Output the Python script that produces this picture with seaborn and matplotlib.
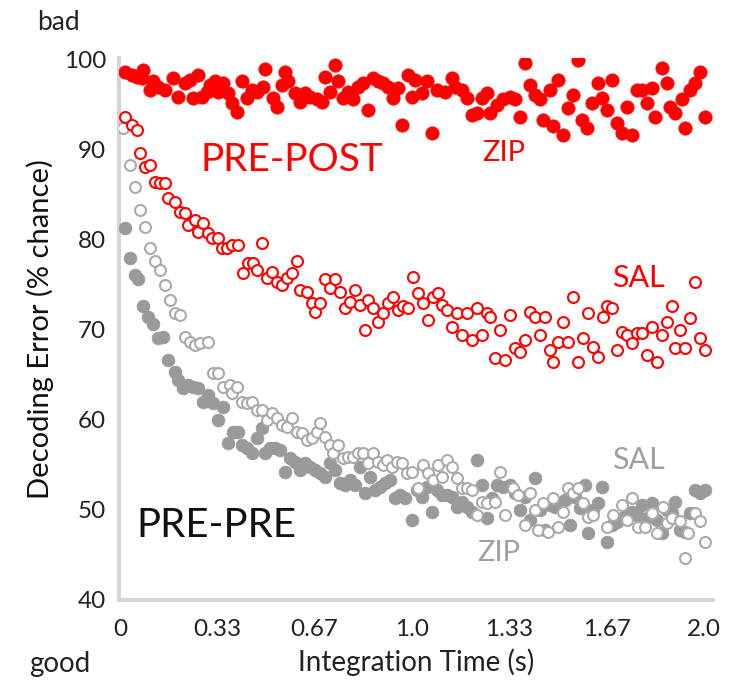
import matplotlib
matplotlib.use("Agg")
import matplotlib.pyplot as plt
import seaborn as sns
import pandas as pd

# ---- data ----
zip_post_x = [0.017,0.041,0.058,0.075,0.079,0.103,0.113,0.130,0.154,0.182,0.199,0.223,0.240,0.250,0.267,0.281,0.298,0.308,0.325,0.336,
              0.353,0.370,0.384,0.401,0.418,0.435,0.452,0.469,0.490,0.497,0.524,0.538,0.555,0.565,0.575,0.599,0.616,0.634,0.651,0.675,
              0.692,0.702,0.719,0.736,0.747,0.764,0.781,0.798,0.815,0.832,0.849,0.866,0.884,0.901,0.918,0.935,0.952,0.966,0.986,1.000,
              1.010,1.034,1.051,1.068,1.086,1.113,1.137,1.147,1.171,1.188,1.205,1.223,1.240,1.257,1.267,1.291,1.312,1.336,1.353,1.370,
              1.387,1.404,1.421,1.438,1.449,1.473,1.483,1.500,1.517,1.534,1.551,1.568,1.582,1.599,1.616,1.637,1.651,1.668,1.685,1.702,
              1.719,1.736,1.753,1.771,1.788,1.805,1.822,1.832,1.856,1.873,1.884,1.901,1.925,1.935,1.952,1.969,1.986,2.003]
zip_post_y = [98.6,98.3,98.1,98.0,98.9,96.7,97.6,97.0,96.7,98.0,95.9,97.4,97.8,95.8,98.3,95.9,96.4,97.2,97.6,96.4,
              97.4,96.3,95.2,94.2,97.6,95.8,96.7,96.4,97.0,99.0,95.8,94.8,97.2,98.7,97.6,96.3,95.3,96.3,95.9,95.6,
              95.3,98.1,96.4,99.4,97.6,95.8,96.4,95.6,97.0,97.4,94.4,98.0,97.6,97.4,97.0,95.8,96.9,92.8,98.3,95.9,
              97.8,96.3,97.6,91.9,96.7,96.4,98.0,97.0,96.7,95.8,93.9,94.1,95.8,96.3,94.1,95.0,95.6,95.9,95.6,93.6,
              99.7,97.2,96.1,95.6,93.3,96.7,92.6,97.8,91.7,94.7,96.1,100.0,93.3,92.4,95.2,97.4,95.8,94.4,97.8,93.0,
              91.9,94.8,91.7,96.7,96.7,95.2,96.9,93.6,99.1,97.4,94.8,94.1,95.6,92.4,96.7,97.4,98.6,93.7]

sal_post_x = [0.017,0.041,0.058,0.068,0.086,0.103,0.120,0.137,0.154,0.164,0.188,0.205,0.223,0.233,0.257,0.267,0.284,0.301,0.315,0.336,
              0.349,0.366,0.384,0.404,0.421,0.438,0.455,0.469,0.486,0.503,0.521,0.538,0.555,0.572,0.589,0.606,0.616,0.640,0.658,0.668,
              0.685,0.702,0.719,0.736,0.753,0.771,0.788,0.805,0.822,0.839,0.849,0.866,0.884,0.901,0.918,0.935,0.952,0.969,0.986,1.003,
              1.021,1.038,1.055,1.072,1.089,1.103,1.120,1.137,1.154,1.171,1.188,1.205,1.223,1.240,1.257,1.267,1.284,1.301,1.318,1.336,
              1.353,1.370,1.387,1.404,1.421,1.438,1.455,1.473,1.483,1.500,1.517,1.534,1.551,1.568,1.586,1.603,1.620,1.637,1.654,1.668,
              1.685,1.702,1.719,1.736,1.753,1.771,1.788,1.805,1.822,1.839,1.856,1.873,1.890,1.901,1.918,1.935,1.952,1.969,1.986,2.003]
sal_post_y = [93.6,92.8,92.2,89.7,88.1,88.3,86.4,86.3,86.3,84.7,84.2,83.1,83.0,81.7,82.2,80.9,81.9,80.8,80.2,80.2,
              79.1,79.1,79.4,79.4,76.3,77.4,77.4,76.7,79.7,75.8,76.4,75.3,75.0,75.8,76.3,77.6,74.4,74.2,73.0,72.0,
              73.0,75.6,74.7,75.6,74.2,72.4,73.1,74.4,72.8,70.0,73.3,72.4,70.9,71.9,73.0,73.7,72.2,72.6,72.4,75.9,
              74.1,73.0,71.1,73.6,74.1,72.8,72.2,70.3,71.9,69.4,71.9,68.9,72.4,69.4,71.9,71.4,66.9,70.0,66.7,71.7,
              68.0,67.6,68.9,72.0,71.4,69.4,71.4,67.8,66.4,68.7,70.9,68.7,73.6,66.4,69.1,71.9,68.1,67.0,71.4,72.6,
              72.4,67.8,69.8,69.4,68.6,69.7,69.7,67.2,70.3,66.4,69.4,70.9,72.6,68.0,70.0,68.0,71.3,75.3,69.1,67.8]

sal_pre_x = [0.010,0.034,0.051,0.068,0.086,0.103,0.120,0.137,0.154,0.171,0.188,0.205,0.223,0.240,0.257,0.274,0.301,0.318,0.336,0.353,
             0.377,0.384,0.401,0.418,0.435,0.452,0.469,0.486,0.503,0.521,0.538,0.555,0.572,0.589,0.606,0.623,0.640,0.658,0.675,0.685,
             0.702,0.719,0.729,0.747,0.764,0.781,0.798,0.815,0.832,0.849,0.866,0.884,0.901,0.914,0.932,0.949,0.966,0.983,1.000,1.021,
             1.038,1.055,1.072,1.089,1.103,1.120,1.137,1.154,1.171,1.188,1.205,1.223,1.240,1.257,1.284,1.301,1.318,1.346,1.363,1.387,
             1.404,1.421,1.432,1.449,1.466,1.483,1.500,1.517,1.534,1.551,1.568,1.586,1.603,1.620,1.668,1.688,1.719,1.736,1.753,1.774,
             1.798,1.822,1.839,1.860,1.873,1.890,1.918,1.935,1.945,1.969,1.986,2.003]
sal_pre_y = [92.4,88.3,85.9,83.3,81.4,79.1,77.6,76.7,75.0,73.3,71.9,71.7,69.2,68.7,68.3,68.6,68.7,65.2,65.2,63.7,
             63.9,63.0,63.7,62.0,61.9,62.0,61.1,61.1,60.0,60.8,60.2,59.4,59.2,60.2,58.7,58.6,57.8,58.0,58.7,59.7,
             58.1,57.2,56.3,57.2,55.8,55.9,55.9,56.3,56.3,55.2,56.3,55.3,55.0,55.6,54.8,55.3,55.2,54.1,54.2,52.4,
             55.0,54.1,53.3,55.0,53.7,55.6,54.8,53.6,52.4,52.4,52.2,49.4,50.9,50.8,50.9,54.2,49.4,52.4,51.7,48.3,
             51.9,50.0,47.8,50.8,47.6,51.3,48.1,49.8,52.4,51.9,52.4,50.8,49.2,49.4,48.1,49.4,50.6,48.9,51.3,48.1,
             48.1,49.7,47.4,50.3,48.6,49.1,48.8,44.7,47.4,49.7,48.8,46.4]

zip_pre_x = [0.017,0.034,0.051,0.062,0.079,0.096,0.113,0.130,0.147,0.164,0.188,0.199,0.216,0.233,0.250,0.267,0.284,0.301,0.318,0.336,
             0.353,0.370,0.387,0.404,0.418,0.435,0.452,0.469,0.486,0.497,0.514,0.531,0.548,0.565,0.582,0.599,0.616,0.634,0.651,0.668,
             0.685,0.702,0.719,0.736,0.753,0.771,0.788,0.805,0.822,0.839,0.856,0.873,0.890,0.908,0.925,0.942,0.959,0.976,1.000,1.017,
             1.034,1.051,1.068,1.086,1.103,1.120,1.137,1.154,1.171,1.188,1.205,1.223,1.240,1.257,1.274,1.291,1.312,1.336,1.353,1.370,
             1.387,1.404,1.421,1.438,1.455,1.473,1.490,1.507,1.524,1.541,1.558,1.575,1.592,1.603,1.620,1.637,1.651,1.668,1.685,1.702,
             1.719,1.736,1.753,1.771,1.788,1.805,1.822,1.839,1.856,1.873,1.890,1.901,1.918,1.935,1.952,1.969,1.986,2.003]
zip_pre_y = [81.3,78.0,76.1,75.6,72.6,71.4,70.6,69.1,69.2,66.7,65.3,64.4,63.6,63.9,63.7,63.6,62.0,62.8,61.9,60.0,
             61.4,57.4,58.7,58.7,57.2,56.9,56.3,58.0,59.1,56.3,56.9,56.9,56.7,54.2,55.8,55.3,54.4,55.2,54.8,54.4,
             54.1,53.7,55.2,54.4,53.0,52.8,53.3,52.8,54.8,51.9,53.7,52.2,52.6,53.0,53.3,51.3,51.7,51.3,48.9,52.2,
             51.4,52.6,49.8,52.2,51.7,51.7,51.4,50.3,50.9,50.3,49.8,55.6,52.8,49.1,51.3,52.8,52.6,52.8,51.9,50.0,
             51.4,48.9,53.6,50.0,47.8,50.6,50.3,50.8,51.1,48.3,51.4,50.2,52.8,47.4,50.0,50.8,52.6,46.4,48.3,48.7,
             49.1,49.7,49.8,49.4,50.6,49.1,50.8,48.9,47.4,50.0,49.7,50.9,47.8,47.6,49.7,52.2,51.9,52.2]

xtick_vals = [0, 1/3, 2/3, 1.0, 4/3, 5/3, 2.0]
xtick_labels = ["0", "0.33", "0.67", "1.0", "1.33", "1.67", "2.0"]
ytick_vals = [40, 50, 60, 70, 80, 90, 100]

sns.set_style("white")
plt.rcParams["font.family"] = ["Lato", "DejaVu Sans"]

W, H = 739, 681
fig = plt.figure(figsize=(W / 100, H / 100), dpi=100)
ax = fig.add_axes([118.5 / W, (H - 600) / H, 594.5 / W, 542 / H])

red = "#ff0000"
gfill = "#9a9a9a"
gopen = "#aaaaaa"

sns.scatterplot(x=zip_pre_x, y=zip_pre_y, ax=ax, s=85, color=gfill, edgecolor=gfill,
                linewidth=0.5, zorder=3)
sns.scatterplot(x=sal_pre_x, y=sal_pre_y, ax=ax, s=62, facecolor="white", edgecolor=gopen,
                linewidth=1.5, zorder=4)
sns.scatterplot(x=sal_post_x, y=sal_post_y, ax=ax, s=62, facecolor="white", edgecolor=red,
                linewidth=1.5, zorder=4)
sns.scatterplot(x=zip_post_x, y=zip_post_y, ax=ax, s=92, color=red, edgecolor=red,
                linewidth=0.5, zorder=3)

ax.set_xlim(-0.005, 2.031)
ax.set_ylim(40, 100.2)
ax.set_xticks(xtick_vals)
ax.set_xticklabels(xtick_labels)
ax.set_yticks(ytick_vals)

for side in ["top", "right"]:
    ax.spines[side].set_visible(False)
for side in ["left", "bottom"]:
    ax.spines[side].set_color("#d4d4d4")
    ax.spines[side].set_linewidth(2.8)
ax.tick_params(axis="both", direction="in", length=7, width=1.2, color="#b8b8b8",
               labelsize=17.5, labelcolor="#222222", pad=9)
ax.tick_params(axis="x", pad=14)

ax.set_ylabel("Decoding Error (% chance)", fontsize=21, color="#111111", labelpad=7)
ax.set_xlabel("Integration Time (s)", fontsize=20, color="#222222", labelpad=6)

# annotations
ax.text(0.589, 88.9, "PRE-POST", color=red, fontsize=28, ha="center", va="center")
ax.text(1.315, 89.7, "ZIP", color=red, fontsize=21, ha="center", va="center")
ax.text(1.777, 75.8, "SAL", color=red, fontsize=22, ha="center", va="center")
ax.text(1.774, 55.6, "SAL", color="#a0a0a0", fontsize=22, ha="center", va="center")
ax.text(1.298, 45.2, "ZIP", color="#a0a0a0", fontsize=21, ha="center", va="center")
ax.text(0.33, 48.3, "PRE-PRE", color="#111111", fontsize=29, ha="center", va="center")

fig.text(58 / W, 1 - 22 / H, "bad", fontsize=19, color="#222222", ha="center", va="center")
fig.text(60 / W, 1 - 664 / H, "good", fontsize=20, color="#222222", ha="center", va="center")

fig.savefig("out.png", dpi=100)
